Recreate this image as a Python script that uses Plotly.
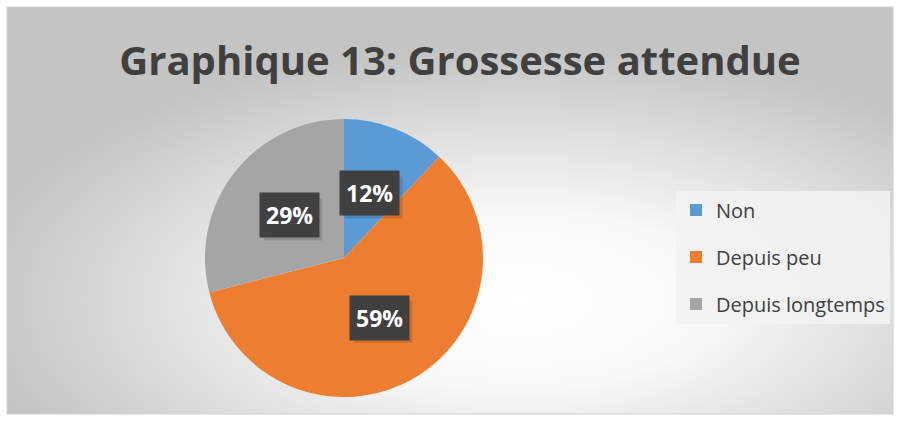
import base64, math
import plotly.graph_objects as go

# ---- data ----
categories = ["Non", "Depuis peu", "Depuis longtemps"]
values = [12, 59, 29]
colors = ["#5B9BD5", "#ED7D31", "#A5A5A5"]
title_text = "Graphique 13: Grossesse attendue"

W, H = 901, 421
cx, cy = 344 / W, (H - 258) / H
rpx = 139
dom_x = [cx - rpx / W, cx + rpx / W]
dom_y = [cy - rpx / H, cy + rpx / H]

svg = '''<svg xmlns="http://www.w3.org/2000/svg" width="886" height="407">
<defs><radialGradient id="g" cx="58%" cy="72%" r="62%">
<stop offset="0%" stop-color="#ffffff"/><stop offset="35%" stop-color="#f8f8f8"/>
<stop offset="100%" stop-color="#c4c4c4"/></radialGradient></defs>
<rect width="886" height="407" fill="url(#g)"/></svg>'''
bg_uri = "data:image/svg+xml;base64," + base64.b64encode(svg.encode()).decode()

fig = go.Figure()
fig.add_trace(go.Pie(
    labels=categories, values=values, sort=False, direction="clockwise", rotation=0,
    marker=dict(colors=colors, line=dict(width=0)),
    textinfo="none", domain=dict(x=dom_x, y=dom_y), hoverinfo="label+percent",
    showlegend=False,
))
# legend entries (dummy traces so item spacing can match)
for i, (c, col) in enumerate(zip(categories, colors)):
    fig.add_trace(go.Scatter(x=[None], y=[None], mode="markers", name=c,
                             legendgroup=f"g{i}",
                             marker=dict(symbol="square", size=13, color=col)))

shapes = [dict(type="rect", xref="paper", yref="paper", x0=7 / W, x1=893 / W,
               y0=1 - 414 / H, y1=1 - 7 / H, line=dict(color="#d0d0d0", width=1))]

total = sum(values)
start = 0.0
for v in values:
    mid = (start + v / 2) / total * 2 * math.pi
    start += v
    ax = cx + 0.5 * rpx * math.sin(mid) / W
    ay = cy + 0.5 * rpx * math.cos(mid) / H
    shapes.append(dict(type="rect", xref="paper", yref="paper",
                       xsizemode="pixel", ysizemode="pixel", xanchor=ax, yanchor=ay,
                       x0=-25, x1=33, y0=-25, y1=17,
                       fillcolor="rgba(0,0,0,0.13)", line=dict(width=0), layer="above"))
    fig.add_annotation(x=ax, y=ay, xref="paper", yref="paper",
                       xanchor="center", yanchor="middle",
                       text=f"<b>{round(v / total * 100)}%</b>", showarrow=False,
                       font=dict(family="Open Sans", size=23, color="white"),
                       bgcolor="#404040", borderpad=6)

fig.update_layout(
    width=W, height=H, margin=dict(l=0, r=0, t=0, b=0),
    paper_bgcolor="white", plot_bgcolor="rgba(0,0,0,0)",
    xaxis=dict(visible=False), yaxis=dict(visible=False),
    title=dict(text=f"<b>{title_text}</b>", x=460 / W, xanchor="center",
               y=1 - 61 / H, yanchor="middle",
               font=dict(family="Open Sans", size=40, color="#404040")),
    legend=dict(x=676 / W, xanchor="left", y=(H - 257) / H, yanchor="middle",
                bgcolor="rgba(242,242,242,0.9)", borderwidth=0, tracegroupgap=18,
                font=dict(family="Open Sans", size=20, color="#404040"),
                itemsizing="constant"),
    images=[dict(source=bg_uri, xref="paper", yref="paper", x=7 / W, y=1 - 7 / H,
                 sizex=886 / W, sizey=407 / H, sizing="stretch", layer="below")],
    shapes=shapes,
)
fig.write_html("out.html", config={"displayModeBar": False},
               post_script="document.body.style.margin='0px';")
